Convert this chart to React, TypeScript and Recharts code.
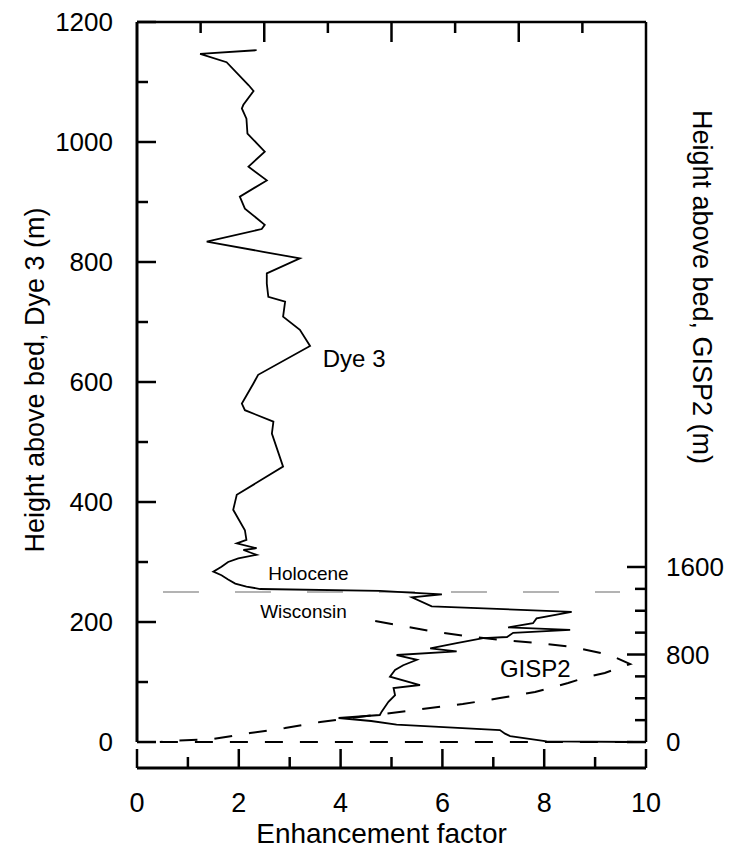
import {
  ComposedChart,
  Line,
  XAxis,
  YAxis,
  ReferenceLine,
  ReferenceDot,
} from "recharts";

const FONT = '"Liberation Sans", Arial, Helvetica, sans-serif';
const INK = "#000";
const BOUNDARY_GREY = "#9a9a9a";

// Dye 3 profile, read from the top of the core down to the bed
const DYE3_ENHANCEMENT = [
  2.35, 1.24, 1.76, 2.19, 2.29, 2.09, 2.06, 2.15, 2.17, 2.51, 2.19, 2.55, 2.02,
  2.12, 2.51, 2.45, 1.37, 2.48, 3.2, 2.55, 2.55, 2.58, 2.91, 2.87, 3.2, 3.4,
  2.38, 2.29, 2.06, 2.12, 2.68, 2.65, 2.87, 1.96, 1.89, 2.12, 2.15, 1.96, 2.35,
  2.09, 2.35, 1.99, 1.79, 1.66, 1.5, 1.66, 1.79, 1.93, 2.15, 2.42, 4.77, 5.99,
  5.4, 5.79, 8.54, 7.85, 7.78, 7.29, 8.51, 7.39, 7.27, 6.8, 6.28, 5.76, 6.28,
  5.1, 5.5, 5.23, 5.07, 4.97, 5.56, 5.04, 5.07, 4.94, 4.81, 4.77, 3.96, 4.6,
  5.1, 7.13, 7.23, 7.33, 8.05, 9.85,
];
const DYE3_HEIGHT = [
  1153, 1147, 1133, 1095, 1085, 1062, 1056, 1039, 1014, 984, 959, 936, 909,
  889, 862, 855, 834, 817, 806, 781, 764, 742, 734, 709, 687, 660, 612, 598,
  564, 553, 534, 514, 459, 412, 387, 353, 337, 331, 323, 320, 312, 306, 300,
  292, 284, 278, 271, 264, 259, 255, 252, 246, 241, 226, 217, 206, 198, 191,
  187, 182, 175, 173, 165, 156, 151, 145, 137, 128, 120, 109, 95, 90, 78, 67,
  51, 45, 40, 35, 29, 20, 14, 10, 1, 0,
];

// GISP2 profile (dashed), heights on the right-hand axis
const GISP2_ENHANCEMENT = [
  4.68, 5.76, 6.44, 7.13, 7.86, 8.55, 9.29, 9.69, 9.19, 8.84, 8.47, 7.82, 7.13,
  6.4, 5.76, 4.68, 3.6, 2.91, 2.22, 1.49, 0.65, 0.45,
];
const GISP2_HEIGHT = [
  1106, 1015, 969, 933, 905, 869, 795, 713, 631, 594, 539, 457, 402, 347, 311,
  247, 183, 128, 82, 27, 9, 0,
];

// dashed bed line
const BED_ENHANCEMENT = [0.45, 9.9];
const BED_HEIGHT = [0, 0];

const HOLOCENE_BOUNDARY = 250;
const BOUNDARY_FROM = 0.51;
const BOUNDARY_TO = 9.49;

const X_TICKS = [0, 1, 2, 3, 4, 5, 6, 7, 8, 9, 10];
const TOP_TICKS = [1.25, 2.5, 3.75, 5, 6.25, 7.5, 8.75];
const DYE3_TICKS = [0, 100, 200, 300, 400, 500, 600, 700, 800, 900, 1000, 1100, 1200];
const GISP2_TICKS = [0, 200, 400, 600, 800, 1000, 1200, 1400, 1600];

// axis relations
const DYE3_TOP = 1200;
const AXIS_DROP = -43.3; // x axis sits below the bed
const GISP2_PER_DYE3 = 1600 / 291.7;
// top frame ticks, in Dye 3 metres (0.6 px per metre)
const TOP_MAJOR = 20 / 0.6;
const TOP_MINOR = 11 / 0.6;

const dye3 = DYE3_ENHANCEMENT.map((e, i) => ({ e, h: DYE3_HEIGHT[i] }));
const gisp2 = GISP2_ENHANCEMENT.map((e, i) => ({ e, g: GISP2_HEIGHT[i] }));
const bed = BED_ENHANCEMENT.map((e, i) => ({ e, h: BED_HEIGHT[i] }));
const topTicks = TOP_TICKS.map((t, i) => [
  { e: t, h: DYE3_TOP },
  { e: t, h: DYE3_TOP - (i % 2 === 1 ? TOP_MAJOR : TOP_MINOR) },
]);

function BottomTick({ x, y, payload }: any) {
  const v = payload.value;
  const major = v % 2 === 0;
  return (
    <g>
      <line x1={x} x2={x} y1={y} y2={y - (major ? 19 : 11)} stroke={INK} strokeWidth={2.5} />
      {major && (
        <text x={x} y={y + 44} textAnchor="middle" fontSize={27} fontFamily={FONT} fill={INK}>
          {v}
        </text>
      )}
    </g>
  );
}

function LeftTick({ x, y, payload }: any) {
  const v = payload.value;
  const major = v % 200 === 0;
  return (
    <g>
      <line x1={x} x2={x + (major ? 19 : 11)} y1={y} y2={y} stroke={INK} strokeWidth={2.5} />
      {major && (
        <text x={x - 24} y={y + 9} textAnchor="end" fontSize={26} fontFamily={FONT} fill={INK}>
          {v}
        </text>
      )}
    </g>
  );
}

function RightTick({ x, y, payload }: any) {
  const v = payload.value;
  const major = v % 800 === 0;
  return (
    <g>
      <line x1={x} x2={x - (major ? 19 : 11)} y1={y} y2={y} stroke={INK} strokeWidth={2.5} />
      {major && (
        <text x={x + 20} y={y + 9} textAnchor="start" fontSize={26} fontFamily={FONT} fill={INK}>
          {v}
        </text>
      )}
    </g>
  );
}

const leftTitle = ({ viewBox }: any) => {
  const cx = viewBox.x + 35;
  const cy = viewBox.y + 358;
  return (
    <text
      x={cx}
      y={cy}
      transform={`rotate(-90, ${cx}, ${cy})`}
      textAnchor="middle"
      dominantBaseline="central"
      fontSize={27}
      fontFamily={FONT}
      fill={INK}
    >
      Height above bed, Dye 3 (m)
    </text>
  );
};

const rightTitle = ({ viewBox }: any) => {
  const cx = viewBox.x + 56;
  const cy = viewBox.y + 265;
  return (
    <text
      x={cx}
      y={cy}
      transform={`rotate(90, ${cx}, ${cy})`}
      textAnchor="middle"
      dominantBaseline="central"
      fontSize={27}
      fontFamily={FONT}
      fill={INK}
    >
      Height above bed, GISP2 (m)
    </text>
  );
};

const bottomTitle = ({ viewBox }: any) => (
  <text
    x={viewBox.x + viewBox.width / 2 - 10}
    y={viewBox.y + 75}
    textAnchor="middle"
    fontSize={28}
    fontFamily={FONT}
    fill={INK}
  >
    Enhancement factor
  </text>
);

function note(text: string, size: number) {
  return ({ cx, cy }: any) => (
    <text x={cx} y={cy} fontSize={size} fontFamily={FONT} fill={INK}>
      {text}
    </text>
  );
}

export default function App() {
  return (
    <div style={{ position: "absolute", left: 0, top: 0, background: "#fff" }}>
      <ComposedChart width={733} height={851} margin={{ top: 22, right: 0, bottom: 0, left: 0 }}>
        <XAxis
          type="number"
          dataKey="e"
          domain={[0, 10]}
          ticks={X_TICKS}
          interval={0}
          allowDataOverflow
          height={83}
          tickSize={0}
          tickMargin={0}
          tickLine={false}
          tick={BottomTick}
          axisLine={{ stroke: INK, strokeWidth: 3 }}
          label={bottomTitle}
        />
        <YAxis
          yAxisId="left"
          type="number"
          domain={[AXIS_DROP, DYE3_TOP]}
          ticks={DYE3_TICKS}
          interval={0}
          allowDataOverflow
          width={137}
          tickSize={0}
          tickMargin={0}
          tickLine={false}
          tick={LeftTick}
          axisLine={false}
          label={leftTitle}
        />
        <YAxis
          yAxisId="right"
          orientation="right"
          type="number"
          domain={[AXIS_DROP * GISP2_PER_DYE3, DYE3_TOP * GISP2_PER_DYE3]}
          ticks={GISP2_TICKS}
          interval={0}
          allowDataOverflow
          width={87}
          tickSize={0}
          tickMargin={0}
          tickLine={false}
          tick={RightTick}
          axisLine={false}
          label={rightTitle}
        />

        {/* frame: left, right and top edges */}
        <ReferenceLine
          yAxisId="left"
          segment={[{ x: 0, y: 0 }, { x: 0, y: DYE3_TOP }]}
          stroke={INK}
          strokeWidth={3}
          ifOverflow="visible"
        />
        <ReferenceLine
          yAxisId="left"
          segment={[{ x: 10, y: 0 }, { x: 10, y: DYE3_TOP }]}
          stroke={INK}
          strokeWidth={2.5}
          ifOverflow="visible"
        />
        <ReferenceLine
          yAxisId="left"
          segment={[{ x: 0, y: DYE3_TOP }, { x: 10, y: DYE3_TOP }]}
          stroke={INK}
          strokeWidth={2.5}
          ifOverflow="visible"
        />
        {topTicks.map((seg, i) => (
          <Line
            key={`top-${i}`}
            yAxisId="left"
            data={seg}
            dataKey="h"
            stroke={INK}
            strokeWidth={2.5}
            dot={false}
            legendType="none"
            isAnimationActive={false}
          />
        ))}

        <ReferenceLine
          yAxisId="left"
          segment={[
            { x: BOUNDARY_FROM, y: HOLOCENE_BOUNDARY },
            { x: BOUNDARY_TO, y: HOLOCENE_BOUNDARY },
          ]}
          stroke={BOUNDARY_GREY}
          strokeWidth={1.6}
          strokeDasharray="36 36"
          ifOverflow="visible"
        />

        <Line
          yAxisId="left"
          data={bed}
          dataKey="h"
          stroke={INK}
          strokeWidth={2}
          strokeDasharray="18 17"
          dot={false}
          isAnimationActive={false}
        />
        <Line
          yAxisId="right"
          data={gisp2}
          dataKey="g"
          stroke={INK}
          strokeWidth={2}
          strokeDasharray="18 17"
          dot={false}
          isAnimationActive={false}
        />
        <Line
          yAxisId="left"
          data={dye3}
          dataKey="h"
          stroke={INK}
          strokeWidth={1.8}
          dot={false}
          isAnimationActive={false}
        />

        <ReferenceDot yAxisId="left" x={3.65} y={625} r={0} shape={note("Dye 3", 24)} ifOverflow="visible" />
        <ReferenceDot yAxisId="left" x={7.13} y={109} r={0} shape={note("GISP2", 24)} ifOverflow="visible" />
        <ReferenceDot yAxisId="left" x={2.58} y={270} r={0} shape={note("Holocene", 19)} ifOverflow="visible" />
        <ReferenceDot yAxisId="left" x={2.42} y={206} r={0} shape={note("Wisconsin", 19)} ifOverflow="visible" />
      </ComposedChart>
    </div>
  );
}
